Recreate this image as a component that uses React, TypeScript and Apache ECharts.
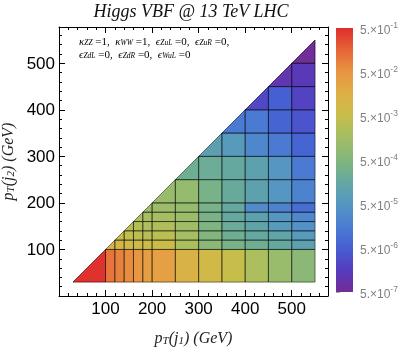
import React, { useEffect, useRef } from 'react';
import * as echarts from 'echarts';

// bin edges (GeV), shared by pT(j1) and pT(j2)
const binEdges = [30, 100, 120, 140, 160, 180, 200, 250, 300, 350, 400, 450, 500, 550];

// rowN: values for pT(j2) bin N, pT(j1) bins N..12
const row0 = [0.45, 0.11, 0.079, 0.063, 0.05, 0.035, 0.032, 0.0126, 0.008, 0.005, 0.0022, 0.0011, 0.0007];
const row1 = [0.011, 0.01, 0.0079, 0.0063, 0.006, 0.0063, 0.0021, 0.0007, 0.00035, 0.00025, 0.00016, 0.0001];
const row2 = [0.0053, 0.0045, 0.0037, 0.0032, 0.0037, 0.0018, 0.0005, 0.00025, 0.00016, 0.000126, 0.000063];
const row3 = [0.0032, 0.0028, 0.0024, 0.0024, 0.0014, 0.00042, 0.0002, 0.000126, 0.000063, 0.00004];
const row4 = [0.0021, 0.0018, 0.0018, 0.00126, 0.00035, 0.00016, 0.0001, 0.00005, 0.000025];
const row5 = [0.00126, 0.00126, 0.001, 0.00035, 0.00016, 0.00003, 0.00002, 0.0000089];
const row6 = [0.0011, 0.001, 0.00035, 0.00018, 0.0001, 0.00005, 0.00002];
const row7 = [0.00025, 0.00022, 0.00016, 0.0001, 0.00005, 0.000014];
const row8 = [0.00009, 0.000063, 0.000025, 0.000014, 0.0000063];
const row9 = [0.000014, 0.000014, 0.0000063, 0.0000035];
const row10 = [0.0000022, 0.000005, 0.000002];
const row11 = [0.000001, 0.0000013];
const row12 = [0.00000055];
const rows = [row0, row1, row2, row3, row4, row5, row6, row7, row8, row9, row10, row11, row12];

// colour bar tick exponents: labels 5.×10^k
const colorbarExponents = [-7, -6, -5, -4, -3, -2, -1];

// colour scale, low -> high
const palette = [
  '#732d96', '#553cbe', '#465fd2', '#4b7dd2', '#5596c3', '#64a8a0', '#82b67d',
  '#a2be64', '#c6be4b', '#deaf46', '#e89641', '#e66437', '#de2d2d',
];

const SERIF = '"Liberation Serif", "DejaVu Serif", serif';
const SANS = '"Liberation Sans", Arial, sans-serif';

export default function App() {
  const ref = useRef<HTMLDivElement>(null);
  useEffect(() => {
    if (!ref.current) return;
    const chart = echarts.init(ref.current, null, { renderer: 'svg' });

    const cells: number[][] = [];
    rows.forEach((row, j) =>
      row.forEach((v, k) => {
        const i = j + k;
        cells.push([binEdges[i], binEdges[i + 1], binEdges[j], binEdges[j + 1], Math.log10(v / 5), i === j ? 1 : 0, v]);
      })
    );

    const cellShape = (api: any) => {
      const x0 = api.value(0), x1 = api.value(1), y0 = api.value(2), y1 = api.value(3);
      const a = api.coord([x0, y0]);
      const b = api.coord([x1, y0]);
      const c = api.coord([x1, y1]);
      const d = api.coord([x0, y1]);
      return api.value(5) === 1 ? [a, b, c] : [a, b, c, d];
    };

    const frameAxis = (extra: any) => ({
      type: 'value',
      min: 0,
      max: 578,
      interval: 100,
      axisLine: { show: true, onZero: false, lineStyle: { color: '#000', width: 1 } },
      axisTick: { show: true, inside: true, length: 6, lineStyle: { color: '#000', width: 1 } },
      minorTick: { show: true, splitNumber: 5, length: 3, lineStyle: { color: '#000', width: 1 } },
      splitLine: { show: false },
      minorSplitLine: { show: false },
      ...extra,
    });

    const tickLabel = {
      fontSize: 17,
      color: '#000',
      fontFamily: SANS,
      margin: 4,
      formatter: (v: number) => (v > 0 && v % 100 === 0 ? String(v) : ''),
    };

    const nameRich = {
      i: { fontFamily: SERIF, fontStyle: 'italic', fontSize: 16, color: '#222', lineHeight: 16, verticalAlign: 'top' },
      s: { fontFamily: SERIF, fontStyle: 'italic', fontSize: 11, color: '#222', lineHeight: 11, padding: [7, 0, 0, 0], verticalAlign: 'bottom' },
    };

    const annRich = {
      n: { fontFamily: SERIF, fontSize: 11, color: '#111', lineHeight: 11, verticalAlign: 'top' },
      g: { fontFamily: SERIF, fontStyle: 'italic', fontSize: 11, color: '#111', lineHeight: 11, verticalAlign: 'top' },
      s: { fontFamily: SERIF, fontStyle: 'italic', fontSize: 7.5, color: '#111', lineHeight: 8, padding: [5, 0, 0, 0], verticalAlign: 'bottom' },
    };

    chart.setOption({
      animation: false,
      grid: [
        { left: 59, top: 27, width: 269, height: 269, containLabel: false, outerBoundsMode: 'none' },
        { left: 336, top: 28, width: 17, height: 264, containLabel: false, outerBoundsMode: 'none' },
      ],
      xAxis: [
        frameAxis({
          gridIndex: 0,
          position: 'bottom',
          axisLabel: tickLabel,
          name: '{i|p}{s|T}{i|(j}{s|1}{i|) (GeV)}',
          nameLocation: 'middle',
          nameGap: 33,
          nameTextStyle: { rich: nameRich },
        }),
        frameAxis({ gridIndex: 0, position: 'top', axisLabel: { show: false } }),
        { type: 'value', gridIndex: 1, min: 0, max: 1, show: false },
      ],
      yAxis: [
        frameAxis({
          gridIndex: 0,
          position: 'left',
          axisLabel: tickLabel,
          name: '{i|p}{s|T}{i|(j}{s|2}{i|) (GeV)}',
          nameLocation: 'middle',
          nameRotate: 90,
          nameGap: 38,
          nameTextStyle: { rich: nameRich },
        }),
        frameAxis({ gridIndex: 0, position: 'right', axisLabel: { show: false } }),
        {
          type: 'value',
          gridIndex: 1,
          position: 'right',
          min: colorbarExponents[0],
          max: colorbarExponents[colorbarExponents.length - 1],
          interval: 1,
          axisLine: { show: false },
          axisTick: { show: true, inside: false, length: 4, lineStyle: { color: '#aaa' } },
          splitLine: { show: false },
          axisLabel: {
            margin: 7,
            formatter: (v: number) => `{b|5.×10}{s|${v}}`,
            rich: {
              b: { fontFamily: SANS, fontSize: 12, color: '#808080', lineHeight: 16, verticalAlign: 'bottom' },
              s: { fontFamily: SANS, fontSize: 8.5, color: '#808080', lineHeight: 9, verticalAlign: 'top' },
            },
          },
        },
      ],
      visualMap: {
        type: 'continuous',
        show: false,
        min: colorbarExponents[0],
        max: colorbarExponents[colorbarExponents.length - 1],
        dimension: 4,
        seriesIndex: 0,
        inRange: { color: palette },
      },
      series: [
        {
          type: 'custom',
          xAxisIndex: 0,
          yAxisIndex: 0,
          data: cells,
          encode: { x: [0, 1], y: [2, 3] },
          renderItem: (params: any, api: any) => ({
            type: 'polygon',
            shape: { points: cellShape(api) },
            style: { fill: api.visual('color'), stroke: api.visual('color'), lineWidth: 0.5 },
          }),
        },
        {
          type: 'custom',
          xAxisIndex: 0,
          yAxisIndex: 0,
          data: cells,
          encode: { x: [0, 1], y: [2, 3] },
          renderItem: (params: any, api: any) => ({
            type: 'polygon',
            shape: { points: cellShape(api) },
            style: { fill: 'none', stroke: 'rgba(0,0,0,0.45)', lineWidth: 1 },
          }),
        },
        {
          type: 'custom',
          xAxisIndex: 2,
          yAxisIndex: 2,
          data: [[0.5, -4]],
          renderItem: (params: any, api: any) => {
            const cs = params.coordSys;
            const stops = palette
              .slice()
              .reverse()
              .map((c, k) => ({ offset: k / (palette.length - 1), color: c }));
            return {
              type: 'rect',
              shape: { x: cs.x, y: cs.y, width: cs.width, height: cs.height },
              style: { fill: new echarts.graphic.LinearGradient(0, 0, 0, 1, stops) },
            };
          },
        },
      ],
      graphic: [
        {
          type: 'text',
          x: 191,
          y: 11,
          style: {
            text: 'Higgs VBF @ 13 TeV LHC',
            fontFamily: SERIF,
            fontStyle: 'italic',
            fontSize: 18,
            fill: '#111',
            align: 'center',
            verticalAlign: 'middle',
          },
        },
        {
          type: 'text',
          x: 79,
          y: 35,
          style: {
            text: '{g|κ}{s|ZZ}{n| =1,  }{g|κ}{s|WW}{n| =1,  }{g|ϵ}{s|ZuL}{n| =0,  }{g|ϵ}{s|ZuR}{n| =0,}',
            rich: annRich,
          },
        },
        {
          type: 'text',
          x: 79,
          y: 48,
          style: {
            text: '{g|ϵ}{s|ZdL}{n| =0,  }{g|ϵ}{s|ZdR}{n| =0,  }{g|ϵ}{s|WuL}{n| =0}',
            rich: annRich,
          },
        },
      ],
    });

    return () => chart.dispose();
  }, []);
  return <div ref={ref} style={{ position: 'fixed', left: 0, top: 0, width: 409, height: 349 }} />;
}
